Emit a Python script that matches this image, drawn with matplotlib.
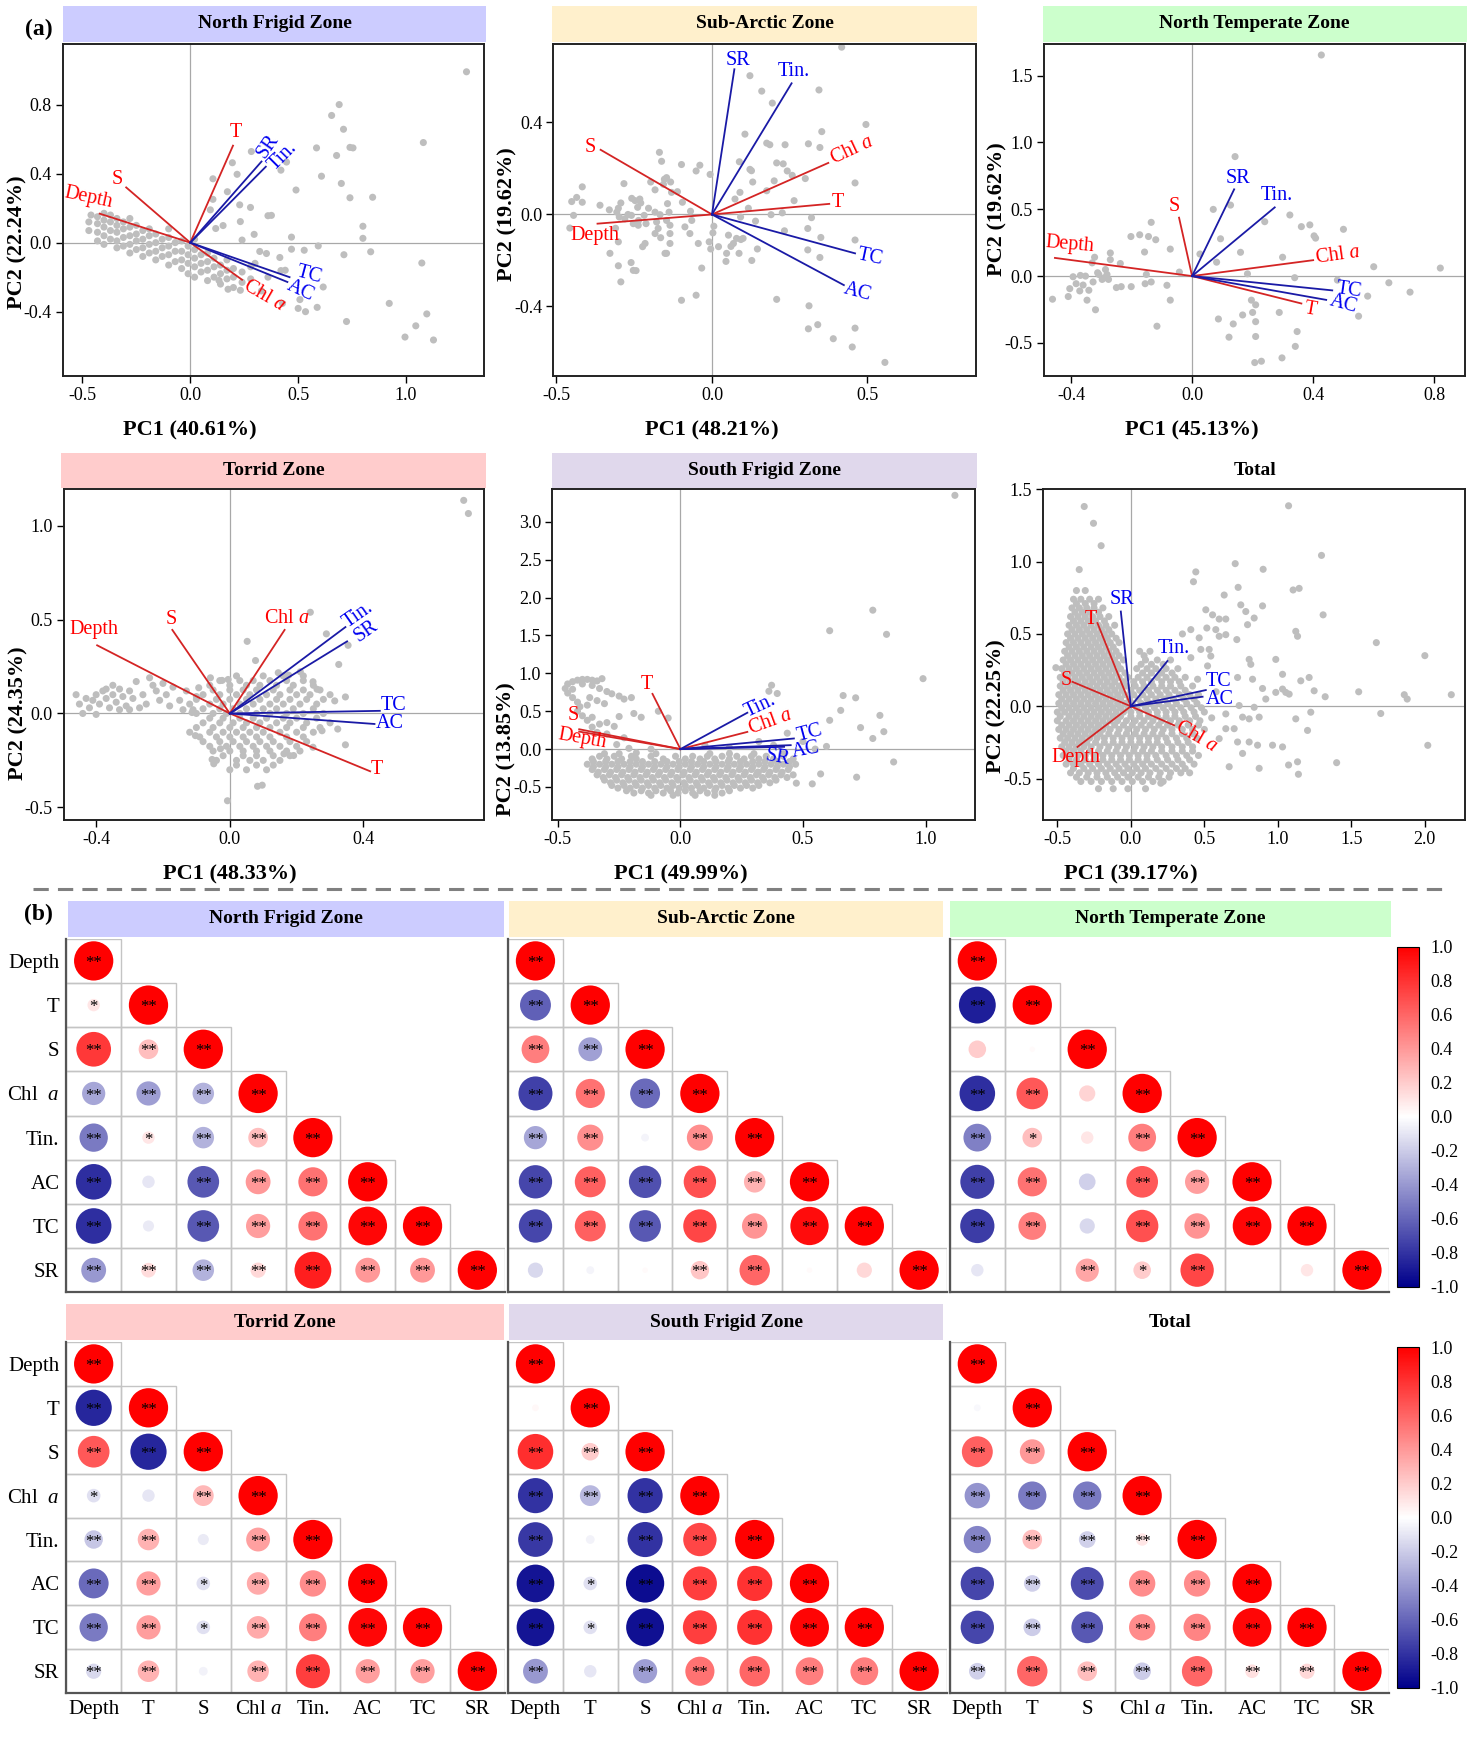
import numpy as np
import matplotlib
matplotlib.use("Agg")
import matplotlib.pyplot as plt
import matplotlib.cm as cm
from matplotlib.colors import LinearSegmentedColormap, Normalize
from matplotlib.patches import Rectangle
from matplotlib.lines import Line2D
from matplotlib.ticker import FormatStrFormatter

plt.rcParams["font.family"] = ["Liberation Serif", "DejaVu Serif"]
plt.rcParams["mathtext.fontset"] = "custom"
plt.rcParams["mathtext.rm"] = "Liberation Serif"
plt.rcParams["mathtext.it"] = "Liberation Serif:italic"
plt.rcParams["axes.unicode_minus"] = False

# ---------------------------------------------------------------- data
variables = ["Depth", "T", "S", "Chl $a$", "Tin.", "AC", "TC", "SR"]
n_env = 4  # Depth, T, S, Chl a drawn in red, the rest in blue

zones = ["North Frigid Zone", "Sub-Arctic Zone", "North Temperate Zone",
         "Torrid Zone", "South Frigid Zone", "Total"]
strip_colors = ["#CCCCFF", "#FFF0CC", "#CCFFCC", "#FFCCCC", "#E0D8EC", "white"]
pc1_var = [40.61, 48.21, 45.13, 48.33, 49.99, 39.17]
pc2_var = [22.24, 19.62, 19.62, 24.35, 13.85, 22.25]
ylab_center = [0.0, 0.0, 0.5, 0.0, 0.0, 0.0]  # where the PC2 title sits on the y axis

# loadings (order as in variables)
nf_load = [(-0.42, 0.168), (0.198, 0.562), (-0.297, 0.32), (0.24, -0.215),
           (0.35, 0.44), (0.45, -0.228), (0.46, -0.20), (0.33, 0.47)]
sa_load = [(-0.368, -0.04), (0.377, 0.046), (-0.358, 0.281), (0.374, 0.224),
           (0.256, 0.57), (0.424, -0.307), (0.46, -0.169), (0.072, 0.631)]
nt_load = [(-0.453, 0.136), (0.361, -0.205), (-0.043, 0.437), (0.40, 0.119),
           (0.273, 0.514), (0.443, -0.178), (0.463, -0.107), (0.139, 0.649)]
tz_load = [(-0.397, 0.363), (0.42, -0.308), (-0.172, 0.445), (0.164, 0.445),
           (0.346, 0.46), (0.433, -0.056), (0.449, 0.014), (0.351, 0.384)]
sf_load = [(-0.413, 0.231), (-0.114, 0.729), (-0.413, 0.262), (0.273, 0.227),
           (0.273, 0.48), (0.45, 0.052), (0.463, 0.14), (0.423, 0.03)]
tot_load = [(-0.363, -0.281), (-0.227, 0.575), (-0.397, 0.169), (0.295, -0.132),
            (0.249, 0.313), (0.488, 0.066), (0.51, 0.112), (-0.068, 0.655)]

# label anchor points and angles
nf_lab = [(-0.47, 0.26, -12), (0.21, 0.64, 0), (-0.34, 0.365, 0), (0.34, -0.31, -30),
          (0.43, 0.50, 45), (0.51, -0.28, -25), (0.55, -0.185, -15), (0.36, 0.56, 55)]
sa_lab = [(-0.376, -0.09, 0), (0.406, 0.05, 0), (-0.39, 0.29, 0), (0.45, 0.28, 25),
          (0.264, 0.62, 0), (0.467, -0.34, -15), (0.51, -0.185, -12), (0.085, 0.667, 0)]
nt_lab = [(-0.405, 0.235, -5), (0.39, -0.248, -10), (-0.058, 0.519, 0), (0.48, 0.157, 8),
          (0.279, 0.605, 0), (0.50, -0.21, -15), (0.52, -0.11, -8), (0.153, 0.728, 0)]
tz_lab = [(-0.407, 0.449, 0), (0.44, -0.30, 0), (-0.175, 0.503, 0), (0.17, 0.507, 0),
          (0.386, 0.525, 35), (0.479, -0.053, 0), (0.49, 0.04, 0), (0.409, 0.44, 35)]
sf_lab = [(-0.40, 0.13, -10), (-0.137, 0.85, 0), (-0.436, 0.437, 0), (0.368, 0.35, 20),
          (0.327, 0.57, 25), (0.51, -0.02, 10), (0.529, 0.21, 15), (0.395, -0.12, -10)]
tot_lab = [(-0.374, -0.356, 0), (-0.272, 0.598, 0), (-0.442, 0.176, 0), (0.44, -0.21, -30),
           (0.295, 0.397, 0), (0.605, 0.05, 0), (0.60, 0.169, 0), (-0.061, 0.735, 0)]

# sample scores
nf_pts = [(0.69, 0.80), (0.655, 0.737), (0.71, 0.657), (0.74, 0.552), (0.754, 0.549),
          (0.678, 0.505), (0.585, 0.549), (0.608, 0.385), (0.70, 0.343), (0.74, 0.26),
          (0.845, 0.263), (1.08, 0.58), (1.28, 0.99), (0.49, 0.305), (0.283, 0.528),
          (0.195, 0.463), (0.217, 0.396), (0.42, 0.42), (0.446, 0.467), (0.105, 0.37),
          (0.172, 0.295), (0.105, 0.251), (0.093, 0.19), (0.229, 0.219), (0.279, 0.204),
          (0.36, 0.156), (0.376, 0.158), (0.232, 0.122), (0.152, 0.099), (0.118, 0.082),
          (0.296, 0.048), (0.469, 0.032), (0.24, 0.015), (0.469, -0.038), (0.528, -0.044),
          (0.593, -0.019), (0.80, 0.095), (0.80, 0.025), (0.836, -0.053), (0.712, -0.07),
          (0.415, -0.086), (0.353, -0.063), (0.322, -0.051), (0.42, -0.162), (0.44, -0.16),
          (0.616, -0.257), (0.508, -0.33), (0.50, -0.381), (0.534, -0.40), (0.588, -0.375),
          (0.427, -0.352), (0.724, -0.457), (0.922, -0.352), (1.073, -0.118), (1.096, -0.413),
          (1.045, -0.482), (0.995, -0.547), (1.127, -0.564), (0.175, -0.27), (0.232, -0.276),
          (0.133, -0.219), (0.30, -0.12), (0.36, -0.20), (0.33, -0.28)]
nf_band = [(-0.47, [0.07, 0.12]), (-0.46, [0.16]), (-0.43, [0.01, 0.06, 0.11, 0.15]),
           (-0.40, [-0.01, 0.04, 0.09, 0.13, 0.17]), (-0.37, [0.02, 0.07, 0.12, 0.16]),
           (-0.34, [-0.03, 0.01, 0.06, 0.10, 0.14]), (-0.31, [-0.02, 0.03, 0.08, 0.12]),
           (-0.28, [-0.06, -0.01, 0.04, 0.09, 0.14]), (-0.25, [-0.04, 0.01, 0.05, 0.10]),
           (-0.22, [-0.08, -0.03, 0.02, 0.07]), (-0.19, [-0.06, -0.01, 0.04, 0.08]),
           (-0.16, [-0.10, -0.05, 0.00, 0.05]), (-0.13, [-0.08, -0.03, 0.02]),
           (-0.10, [-0.13, -0.07, -0.02, 0.03, 0.08]), (-0.07, [-0.11, -0.05, 0.00]),
           (-0.04, [-0.15, -0.10, -0.05, 0.01]), (-0.01, [-0.18, -0.12, -0.07, -0.02]),
           (0.02, [-0.20, -0.14, -0.09, -0.04, 0.02]), (0.05, [-0.17, -0.12, -0.07]),
           (0.08, [-0.22, -0.16, -0.11, -0.06]), (0.11, [-0.20, -0.14, -0.09]),
           (0.14, [-0.24, -0.18, -0.13]), (0.17, [-0.21, -0.16, -0.10]),
           (0.20, [-0.26, -0.20, -0.15]), (0.24, [-0.23, -0.17]), (0.28, [-0.21, -0.14])]

sa_pts = [(0.417, 0.727), (0.122, 0.603), (0.16, 0.536), (0.194, 0.484), (0.344, 0.541),
          (0.106, 0.349), (0.176, 0.31), (0.186, 0.303), (0.235, 0.303), (0.31, 0.307),
          (0.347, 0.291), (0.353, 0.36), (0.495, 0.391), (0.46, 0.137), (0.30, 0.156),
          (0.088, 0.229), (0.122, 0.196), (0.127, 0.19), (0.131, 0.141), (0.208, 0.224),
          (0.229, 0.22), (0.242, 0.189), (0.258, 0.17), (0.20, 0.146), (0.176, 0.103),
          (0.09, 0.096), (0.074, 0.067), (0.117, 0.027), (0.092, -0.011), (0.19, -0.001),
          (0.226, 0.007), (0.264, 0.06), (0.14, -0.029), (0.32, -0.014), (0.233, -0.071),
          (0.308, -0.061), (0.35, -0.10), (0.46, -0.111), (0.053, -0.09), (0.079, -0.104),
          (0.093, -0.109), (0.10, -0.104), (0.069, -0.126), (0.087, -0.169), (0.047, -0.169),
          (0.061, -0.139), (0.146, -0.15), (0.128, -0.20), (0.045, -0.204), (0.308, -0.154),
          (0.347, -0.187), (0.208, -0.369), (0.312, -0.397), (0.34, -0.479), (0.31, -0.497),
          (0.39, -0.54), (0.46, -0.494), (0.451, -0.576), (0.556, -0.643), (0.021, -0.14),
          (0.006, -0.051), (0.003, -0.08), (-0.009, -0.119), (-0.004, -0.15), (-0.006, 0.174),
          (-0.033, -0.233), (-0.051, -0.351), (-0.098, -0.373), (-0.044, -0.126), (-0.071, -0.083),
          (-0.087, -0.054), (-0.065, -0.026), (-0.069, 0.014), (-0.098, 0.217), (-0.039, 0.214),
          (-0.051, 0.189), (-0.135, -0.126), (-0.135, -0.083), (-0.135, -0.047), (-0.169, 0.27),
          (-0.162, 0.231), (-0.197, 0.141), (-0.183, 0.107), (-0.153, 0.153), (-0.156, 0.131),
          (-0.146, 0.16), (-0.133, 0.141), (-0.13, 0.096), (-0.111, 0.099), (-0.143, 0.047),
          (-0.095, 0.053), (-0.138, 0.01), (-0.183, 0.01), (-0.167, -0.001), (-0.178, -0.033),
          (-0.146, -0.026), (-0.183, -0.083), (-0.173, -0.061), (-0.165, -0.101), (-0.151, -0.169),
          (-0.146, -0.169), (-0.215, -0.126), (-0.223, -0.14), (-0.232, 0.067), (-0.239, 0.031),
          (-0.218, -0.004), (-0.204, 0.027), (-0.236, -0.026), (-0.283, 0.134), (-0.293, 0.05),
          (-0.301, 0.027), (-0.306, 0.01), (-0.298, -0.011), (-0.28, -0.019), (-0.259, -0.004),
          (-0.253, -0.04), (-0.237, -0.047), (-0.212, -0.04), (-0.258, 0.07), (-0.247, 0.06),
          (-0.229, 0.05), (-0.301, -0.119), (-0.328, -0.169), (-0.301, -0.223), (-0.26, -0.209),
          (-0.253, -0.243), (-0.244, -0.244), (-0.293, -0.293), (-0.417, 0.12), (-0.451, 0.056),
          (-0.445, -0.004), (-0.435, 0.074), (-0.417, 0.053), (-0.457, -0.059), (-0.33, 0.02),
          (-0.36, 0.04), (-0.31, -0.06), (-0.27, 0.0)]

nt_pts = [(0.427, 1.654), (0.142, 0.894), (0.07, 0.499), (0.127, 0.531), (0.24, 0.407),
          (0.323, 0.457), (0.361, 0.37), (0.389, 0.383), (0.403, 0.301), (0.408, 0.284),
          (0.094, 0.279), (0.16, 0.178), (0.026, 0.165), (0.081, 0.104), (0.299, 0.141),
          (0.183, 0.017), (0.339, -0.012), (0.196, -0.18), (0.21, -0.215), (0.20, -0.272),
          (0.167, -0.291), (0.136, -0.358), (0.21, -0.341), (0.087, -0.321), (0.122, -0.457),
          (0.21, -0.452), (0.288, -0.272), (0.347, -0.415), (0.341, -0.526), (0.297, -0.612),
          (0.207, -0.647), (0.229, -0.637), (0.82, 0.06), (0.72, -0.12), (0.60, 0.07),
          (0.55, -0.30), (0.50, 0.35), (0.48, -0.03), (0.58, -0.15), (0.65, -0.05),
          (-0.116, -0.375), (-0.072, -0.18), (-0.083, -0.069), (-0.072, 0.202), (-0.042, 0.03),
          (-0.135, 0.402), (-0.202, 0.296), (-0.173, 0.309), (-0.144, 0.296), (-0.12, 0.272),
          (-0.157, 0.18), (-0.151, 0.012), (-0.155, -0.057), (-0.135, -0.044), (-0.201, -0.079),
          (-0.234, -0.079), (-0.25, -0.086), (-0.27, 0.173), (-0.27, 0.123), (-0.237, 0.094),
          (-0.286, 0.049), (-0.276, -0.025), (-0.297, -0.025), (-0.308, 0.012), (-0.322, 0.141),
          (-0.33, 0.099), (-0.312, 0.025), (-0.327, -0.044), (-0.319, -0.252), (-0.352, 0.0),
          (-0.369, 0.005), (-0.393, -0.005), (-0.383, -0.057), (-0.36, -0.067), (-0.371, -0.111),
          (-0.341, -0.106), (-0.347, -0.18), (-0.404, -0.094), (-0.409, -0.153), (-0.461, -0.173),
          (-0.289, -0.012), (-0.281, 0.012)]

tz_pts = [(0.70, 1.135), (0.714, 1.065), (0.083, -0.388), (-0.007, -0.465),
          (0.241, 0.539), (0.289, 0.424), (0.354, 0.363), (0.052, 0.384), (0.077, 0.282),
          (0.326, 0.261), (0.145, 0.217), (0.176, 0.204), (0.211, 0.222), (0.249, 0.169),
          (0.261, 0.129), (0.314, 0.067), (0.346, 0.088), (0.346, -0.167), (0.276, -0.092),
          (0.323, -0.083), (0.249, -0.18), (0.191, -0.224), (0.162, -0.215), (0.097, -0.382),
          (-0.048, -0.268), (-0.053, -0.245), (-0.028, -0.188), (-0.103, -0.118), (-0.113, 0.005),
          (-0.093, 0.137), (-0.058, 0.19), (-0.023, 0.176), (-0.005, 0.181),
          (-0.46, 0.10), (-0.45, 0.05), (-0.43, 0.08), (-0.42, 0.03), (-0.41, 0.07), (-0.40, 0.10),
          (-0.39, 0.05), (-0.38, 0.12), (-0.37, 0.08), (-0.36, 0.03), (-0.35, 0.10), (-0.34, 0.06),
          (-0.33, 0.13), (-0.32, 0.09), (-0.31, 0.04), (-0.30, 0.12), (-0.29, 0.08), (-0.28, 0.17),
          (-0.27, 0.03), (-0.26, 0.10), (-0.24, 0.19), (-0.22, 0.12), (-0.21, 0.07), (-0.20, 0.16),
          (-0.19, 0.10), (-0.18, 0.04), (-0.17, 0.14), (-0.15, 0.07), (-0.14, 0.02), (-0.13, 0.12),
          (-0.11, 0.02), (-0.10, 0.09), (-0.44, 0.0), (-0.40, -0.005), (-0.35, 0.15), (-0.30, 0.02),
          (-0.25, 0.05), (-0.23, 0.15), (-0.37, 0.13), (-0.33, 0.02)]
tz_rows = [(0.20, [0.02, 0.10, 0.16, 0.22]),
           (0.175, [-0.03, 0.03, 0.07, 0.12, 0.17, 0.22]),
           (0.15, [-0.06, 0.0, 0.05, 0.09, 0.14, 0.19, 0.25]),
           (0.125, [-0.05, 0.0, 0.04, 0.08, 0.13, 0.18, 0.22, 0.27]),
           (0.10, [-0.08, -0.03, 0.02, 0.06, 0.11, 0.15, 0.20, 0.24, 0.30]),
           (0.075, [-0.10, -0.04, 0.0, 0.05, 0.09, 0.14, 0.18, 0.23, 0.28]),
           (0.05, [-0.12, -0.06, -0.02, 0.03, 0.07, 0.12, 0.16, 0.21, 0.26]),
           (0.025, [-0.08, -0.03, 0.01, 0.05, 0.10, 0.14, 0.19, 0.25]),
           (0.00, [-0.10, -0.05, -0.01, 0.03, 0.08, 0.12, 0.17, 0.22, 0.28]),
           (-0.025, [-0.06, -0.02, 0.03, 0.07, 0.11, 0.16, 0.20, 0.26]),
           (-0.05, [-0.08, -0.03, 0.01, 0.05, 0.09, 0.14, 0.18, 0.23, 0.30]),
           (-0.075, [-0.10, -0.05, 0.0, 0.04, 0.08, 0.12, 0.17, 0.22, 0.27]),
           (-0.10, [-0.12, -0.06, -0.02, 0.02, 0.06, 0.10, 0.15, 0.20, 0.25]),
           (-0.125, [-0.09, -0.04, 0.0, 0.04, 0.08, 0.12, 0.17, 0.22]),
           (-0.15, [-0.08, -0.03, 0.01, 0.05, 0.09, 0.13, 0.18, 0.23]),
           (-0.175, [-0.06, -0.01, 0.03, 0.07, 0.11, 0.15, 0.20]),
           (-0.20, [-0.05, 0.0, 0.04, 0.08, 0.12, 0.17, 0.21]),
           (-0.225, [-0.02, 0.04, 0.08, 0.13, 0.18]),
           (-0.25, [-0.04, 0.02, 0.06, 0.10, 0.15]),
           (-0.275, [0.02, 0.08, 0.13]),
           (-0.30, [0.0, 0.05, 0.11])]

sf_pts = [(1.12, 3.35), (0.785, 1.834), (0.609, 1.563), (0.841, 1.515), (0.99, 0.93),
          (0.664, 0.707), (0.715, 0.677), (0.654, 0.511), (0.814, 0.445), (0.735, 0.284),
          (0.785, 0.14), (0.609, 0.38), (0.372, 0.843), (0.395, 0.734), (0.361, 0.764),
          (0.436, 0.21), (0.596, 0.035), (0.572, -0.328), (0.538, -0.459), (0.473, -0.45),
          (0.719, -0.371), (0.318, -0.306), (0.87, -0.17), (0.83, 0.23),
          (-0.47, 0.80), (-0.46, 0.86), (-0.44, 0.89), (-0.42, 0.91), (-0.40, 0.92), (-0.38, 0.92),
          (-0.36, 0.91), (-0.34, 0.90), (-0.32, 0.93), (-0.46, 0.74), (-0.44, 0.79), (-0.40, 0.86),
          (-0.36, 0.84), (-0.33, 0.80), (-0.30, 0.76), (-0.28, 0.73), (-0.25, 0.70), (-0.23, 0.66),
          (-0.20, 0.68), (-0.44, 0.68), (-0.42, 0.62), (-0.41, 0.56), (-0.38, 0.58), (-0.37, 0.68),
          (-0.34, 0.64), (-0.31, 0.60), (-0.42, 0.50), (-0.40, 0.44), (-0.38, 0.38), (-0.36, 0.42),
          (-0.33, 0.33), (-0.30, 0.35), (-0.27, 0.30), (-0.36, 0.29), (-0.34, 0.22), (-0.30, 0.20),
          (-0.25, 0.43), (-0.19, 0.47), (-0.16, 0.42), (-0.09, 0.50), (-0.05, 0.41), (-0.23, 0.15),
          (-0.26, 0.06), (-0.21, 0.01), (-0.18, -0.05), (-0.12, 0.0), (0.10, 0.05), (0.20, 0.02),
          (0.32, 0.10), (0.38, 0.05), (0.50, 0.10), (0.55, 0.0)]
sf_rows = [(-0.06, [-0.31, -0.25, -0.10, 0.12, 0.20, 0.30, 0.42]),
           (-0.095, [-0.33, -0.27, -0.20, -0.12, -0.02, 0.05, 0.11, 0.17, 0.23, 0.29, 0.35, 0.42]),
           (-0.13, [-0.36, -0.30, -0.24, -0.18, -0.07, 0.02, 0.08, 0.14, 0.20, 0.26, 0.32, 0.38, 0.46]),
           (-0.165, [-0.355, -0.305, -0.255, -0.205, -0.155, -0.105, -0.055, -0.005, 0.045, 0.095,
                     0.145, 0.195, 0.245, 0.295, 0.345, 0.395, 0.445]),
           (-0.20, [-0.38, -0.33, -0.28, -0.23, -0.18, -0.13, -0.08, -0.03, 0.02, 0.07, 0.12, 0.17,
                    0.22, 0.27, 0.32, 0.37, 0.42, 0.47]),
           (-0.235, [-0.355, -0.305, -0.255, -0.205, -0.155, -0.105, -0.055, -0.005, 0.045, 0.095,
                     0.145, 0.195, 0.245, 0.295, 0.345, 0.395, 0.445]),
           (-0.27, [-0.36, -0.31, -0.26, -0.21, -0.16, -0.11, -0.06, -0.01, 0.04, 0.09, 0.14, 0.19,
                    0.24, 0.29, 0.34, 0.39, 0.44]),
           (-0.305, [-0.335, -0.285, -0.235, -0.185, -0.135, -0.085, -0.035, 0.015, 0.065, 0.115,
                     0.165, 0.215, 0.265, 0.315, 0.365, 0.415]),
           (-0.34, [-0.34, -0.29, -0.24, -0.19, -0.14, -0.09, -0.04, 0.01, 0.06, 0.11, 0.16, 0.21,
                    0.26, 0.31, 0.36, 0.41, 0.46]),
           (-0.375, [-0.315, -0.265, -0.215, -0.165, -0.115, -0.065, -0.015, 0.035, 0.085, 0.135,
                     0.185, 0.235, 0.285, 0.335, 0.385, 0.435]),
           (-0.41, [-0.31, -0.26, -0.21, -0.16, -0.11, -0.06, -0.01, 0.04, 0.09, 0.14, 0.19, 0.24,
                    0.29, 0.34, 0.39]),
           (-0.445, [-0.285, -0.235, -0.185, -0.135, -0.085, -0.035, 0.015, 0.065, 0.115, 0.165,
                     0.215, 0.265, 0.315, 0.365]),
           (-0.48, [-0.28, -0.23, -0.18, -0.13, -0.08, -0.03, 0.02, 0.07, 0.12, 0.17, 0.22, 0.27, 0.32]),
           (-0.515, [-0.255, -0.205, -0.155, -0.105, -0.055, -0.005, 0.045, 0.095, 0.145, 0.195,
                     0.245, 0.295]),
           (-0.55, [-0.22, -0.16, -0.10, -0.04, 0.02, 0.08, 0.14, 0.20]),
           (-0.58, [-0.19, -0.13, -0.07, -0.01, 0.05, 0.11, 0.17]),
           (-0.61, [-0.12, -0.03, 0.06, 0.14])]

tot_pts = [(-0.317, 1.381), (-0.254, 1.265), (-0.202, 1.11), (-0.351, 0.945), (1.073, 1.386),
           (0.71, 0.986), (0.90, 0.947), (0.442, 0.929), (0.426, 0.861), (1.297, 1.043),
           (1.308, 0.632), (0.73, 0.822), (0.635, 0.769), (1.104, 0.804), (1.145, 0.815),
           (0.748, 0.701), (0.782, 0.655), (0.839, 0.61), (0.896, 0.694), (0.794, 0.564),
           (0.51, 0.667), (0.556, 0.632), (0.601, 0.603), (0.646, 0.603), (0.517, 0.541),
           (0.578, 0.53), (0.601, 0.484), (0.646, 0.495), (0.721, 0.461), (0.986, 0.324),
           (1.032, 0.221), (1.122, 0.518), (1.134, 0.484), (0.805, 0.324), (0.816, 0.29),
           (0.408, 0.53), (0.351, 0.50), (0.465, 0.473), (0.408, 0.336), (0.476, 0.393),
           (0.533, 0.393), (0.544, 0.347), (0.522, 0.279), (0.454, 0.187), (0.726, 0.199),
           (0.828, 0.187), (0.896, 0.123), (1.032, 0.119), (0.918, 0.05), (0.986, 0.096),
           (1.054, 0.096), (1.077, 0.084), (1.156, 0.176), (1.213, 0.199), (1.247, 0.107),
           (1.322, 0.066), (1.224, -0.041), (1.122, -0.087), (1.202, -0.167), (0.76, -0.075),
           (0.805, -0.087), (0.873, -0.075), (0.839, -0.007), (0.737, 0.005), (0.646, -0.053),
           (0.703, -0.155), (0.726, -0.247), (0.76, -0.326), (0.805, -0.247), (0.862, -0.269),
           (0.873, -0.429), (0.964, -0.269), (1.032, -0.281), (1.073, -0.406), (1.134, -0.384),
           (0.601, -0.224), (0.646, -0.155), (0.669, -0.418), (0.204, -0.532), (-0.51, 0.267),
           (1.67, 0.44), (1.86, 0.08), (1.88, 0.05), (2.18, 0.08), (2.0, 0.35), (2.02, -0.27),
           (1.40, -0.39), (1.14, -0.47), (1.55, 0.10), (1.70, -0.05), (0.58, 0.10), (0.55, -0.08)]
tot_rows = [(0.80, [-0.37, -0.31]),
            (0.74, [-0.39, -0.34, -0.28, -0.22]),
            (0.71, [-0.37, -0.31, -0.25]),
            (0.68, [-0.40, -0.35, -0.30, -0.25, -0.19]),
            (0.65, [-0.38, -0.33, -0.28, -0.22]),
            (0.62, [-0.41, -0.36, -0.31, -0.26, -0.21, -0.15]),
            (0.59, [-0.39, -0.34, -0.29, -0.24, -0.18]),
            (0.56, [-0.42, -0.37, -0.32, -0.27, -0.22, -0.17, -0.11]),
            (0.53, [-0.40, -0.35, -0.30, -0.25, -0.20, -0.15]),
            (0.50, [-0.43, -0.38, -0.33, -0.28, -0.23, -0.18, -0.13]),
            (0.47, [-0.41, -0.36, -0.31, -0.26, -0.21, -0.16, -0.10]),
            (0.44, [-0.44, -0.39, -0.34, -0.29, -0.24, -0.19, -0.14, -0.08]),
            (0.41, [-0.42, -0.37, -0.32, -0.27, -0.22, -0.17, -0.12]),
            (0.38, [-0.45, -0.40, -0.35, -0.30, -0.25, -0.20, -0.15, -0.10, 0.06, 0.13]),
            (0.35, [-0.43, -0.38, -0.33, -0.28, -0.23, -0.18, -0.13, -0.08, 0.09]),
            (0.32, [-0.46, -0.41, -0.36, -0.31, -0.26, -0.21, -0.16, -0.11, -0.05, 0.10, 0.18, 0.27]),
            (0.29, [-0.44, -0.39, -0.34, -0.29, -0.24, -0.19, -0.14, -0.09, 0.07, 0.14, 0.22]),
            (0.26, [-0.47, -0.42, -0.37, -0.32, -0.27, -0.22, -0.17, -0.12, -0.07, 0.04, 0.11, 0.17,
                    0.24, 0.32]),
            (0.23, [-0.45, -0.40, -0.35, -0.30, -0.25, -0.20, -0.15, -0.10, -0.04, 0.08, 0.14, 0.21,
                    0.28]),
            (0.20, [-0.48, -0.43, -0.38, -0.33, -0.28, -0.23, -0.18, -0.13, -0.08, -0.02, 0.05, 0.11,
                    0.18, 0.24, 0.30, 0.37]),
            (0.17, [-0.46, -0.41, -0.36, -0.31, -0.26, -0.21, -0.16, -0.11, -0.05, 0.02, 0.08, 0.14,
                    0.21, 0.27, 0.33]),
            (0.14, [-0.48, -0.43, -0.38, -0.33, -0.28, -0.23, -0.18, -0.13, -0.08, -0.03, 0.03, 0.09,
                    0.15, 0.21, 0.27, 0.34, 0.42]),
            (0.11, [-0.46, -0.41, -0.36, -0.31, -0.26, -0.21, -0.16, -0.11, -0.06, 0.0, 0.06, 0.12,
                    0.18, 0.24, 0.30, 0.37]),
            (0.08, [-0.49, -0.44, -0.39, -0.34, -0.29, -0.24, -0.19, -0.14, -0.09, -0.04, 0.02, 0.08,
                    0.14, 0.20, 0.26, 0.33, 0.40, 0.46]),
            (0.05, [-0.47, -0.42, -0.37, -0.32, -0.27, -0.22, -0.17, -0.12, -0.07, -0.01, 0.05, 0.11,
                    0.17, 0.23, 0.29, 0.36, 0.43]),
            (0.02, [-0.49, -0.44, -0.39, -0.34, -0.29, -0.24, -0.19, -0.14, -0.09, -0.04, 0.01, 0.07,
                    0.13, 0.19, 0.25, 0.31, 0.38, 0.45]),
            (-0.01, [-0.47, -0.42, -0.37, -0.32, -0.27, -0.22, -0.17, -0.12, -0.07, -0.02, 0.04, 0.10,
                     0.16, 0.22, 0.28, 0.34, 0.41, 0.48]),
            (-0.04, [-0.50, -0.45, -0.40, -0.35, -0.30, -0.25, -0.20, -0.15, -0.10, -0.05, 0.00, 0.06,
                     0.12, 0.18, 0.24, 0.30, 0.36, 0.43, 0.50]),
            (-0.07, [-0.48, -0.42, -0.37, -0.32, -0.27, -0.22, -0.17, -0.12, -0.07, 0.0, 0.06, 0.12,
                     0.18, 0.24, 0.30, 0.37, 0.44]),
            (-0.10, [-0.50, -0.44, -0.39, -0.34, -0.29, -0.24, -0.19, -0.14, -0.09, -0.03, 0.03, 0.09,
                     0.15, 0.21, 0.27, 0.33, 0.40, 0.47]),
            (-0.13, [-0.47, -0.42, -0.37, -0.32, -0.27, -0.22, -0.17, -0.11, -0.05, 0.01, 0.07, 0.13,
                     0.19, 0.25, 0.32, 0.39, 0.46]),
            (-0.16, [-0.49, -0.44, -0.39, -0.34, -0.29, -0.24, -0.19, -0.14, -0.08, -0.02, 0.04, 0.10,
                     0.16, 0.22, 0.28, 0.35, 0.42, 0.50]),
            (-0.19, [-0.46, -0.41, -0.36, -0.31, -0.26, -0.21, -0.15, -0.09, -0.03, 0.03, 0.09, 0.15,
                     0.21, 0.28, 0.35, 0.42]),
            (-0.22, [-0.48, -0.43, -0.38, -0.33, -0.28, -0.23, -0.18, -0.12, -0.06, 0.00, 0.06, 0.12,
                     0.18, 0.24, 0.31, 0.38, 0.45]),
            (-0.25, [-0.45, -0.40, -0.35, -0.30, -0.24, -0.18, -0.12, -0.06, 0.0, 0.06, 0.12, 0.18,
                     0.25, 0.32, 0.39]),
            (-0.28, [-0.47, -0.42, -0.37, -0.32, -0.27, -0.21, -0.15, -0.09, -0.03, 0.03, 0.09, 0.15,
                     0.21, 0.28, 0.35, 0.42]),
            (-0.31, [-0.44, -0.39, -0.34, -0.28, -0.22, -0.16, -0.10, -0.04, 0.02, 0.08, 0.14, 0.21,
                     0.28, 0.35, 0.42]),
            (-0.34, [-0.46, -0.41, -0.36, -0.31, -0.25, -0.19, -0.13, -0.07, -0.01, 0.05, 0.11, 0.17,
                     0.24, 0.31, 0.38, 0.46]),
            (-0.37, [-0.42, -0.37, -0.31, -0.25, -0.19, -0.13, -0.07, -0.01, 0.05, 0.11, 0.18, 0.25,
                     0.32, 0.40]),
            (-0.40, [-0.44, -0.39, -0.34, -0.28, -0.22, -0.16, -0.10, -0.04, 0.02, 0.08, 0.14, 0.21,
                     0.28, 0.35, 0.43]),
            (-0.43, [-0.39, -0.32, -0.26, -0.20, -0.14, -0.08, -0.02, 0.04, 0.10, 0.17, 0.24, 0.31, 0.37]),
            (-0.46, [-0.41, -0.35, -0.29, -0.23, -0.17, -0.11, -0.05, 0.01, 0.07, 0.13, 0.20, 0.27,
                     0.34, 0.40]),
            (-0.49, [-0.37, -0.30, -0.23, -0.16, -0.09, -0.02, 0.05, 0.12, 0.19, 0.26]),
            (-0.52, [-0.34, -0.27, -0.20, -0.13, -0.06, 0.01, 0.08, 0.15, 0.22]),
            (-0.57, [-0.22, -0.12, -0.02, 0.10])]

# axis ranges and ticks
pca_xlim = [(-0.59, 1.36), (-0.51, 0.85), (-0.49, 0.90), (-0.496, 0.76), (-0.523, 1.203), (-0.60, 2.27)]
pca_ylim = [(-0.77, 1.15), (-0.70, 0.74), (-0.744, 1.735), (-0.565, 1.194), (-0.93, 3.43), (-0.783, 1.49)]
pca_xticks = [[-0.5, 0, 0.5, 1.0], [-0.5, 0, 0.5], [-0.4, 0, 0.4, 0.8], [-0.4, 0, 0.4],
              [-0.5, 0, 0.5, 1.0], [-0.5, 0, 0.5, 1.0, 1.5, 2.0]]
pca_yticks = [[-0.4, 0, 0.4, 0.8], [-0.4, 0, 0.4], [-0.5, 0, 0.5, 1.0, 1.5], [-0.5, 0, 0.5, 1.0],
              [-0.5, 0, 0.5, 1.0, 1.5, 2.0, 2.5, 3.0], [-0.5, 0, 0.5, 1.0, 1.5]]

# correlation matrices (lower triangle, rows Depth..SR)
nf_r = [[1], [0.10, 1], [0.78, 0.25, 1], [-0.35, -0.38, -0.30, 1],
        [-0.52, 0.10, -0.30, 0.25, 1], [-0.82, -0.10, -0.65, 0.40, 0.55, 1],
        [-0.82, -0.08, -0.65, 0.38, 0.55, 0.97, 1], [-0.40, 0.14, -0.30, 0.15, 0.88, 0.40, 0.40, 1]]
nf_sig = [["**"], ["*", "**"], ["**", "**", "**"], ["**", "**", "**", "**"],
          ["**", "*", "**", "**", "**"], ["**", "", "**", "**", "**", "**"],
          ["**", "", "**", "**", "**", "**", "**"], ["**"] * 8]
sa_r = [[1], [-0.62, 1], [0.50, -0.37, 1], [-0.75, 0.55, -0.58, 1],
        [-0.35, 0.44, -0.04, 0.44, 1], [-0.72, 0.62, -0.68, 0.68, 0.30, 1],
        [-0.72, 0.62, -0.65, 0.72, 0.42, 0.95, 1], [-0.15, -0.04, 0.02, 0.22, 0.60, 0.02, 0.15, 1]]
sa_sig = [["**"], ["**", "**"], ["**", "**", "**"], ["**", "**", "**", "**"],
          ["**", "**", "", "**", "**"], ["**"] * 6, ["**"] * 7,
          ["", "", "", "**", "**", "", "", "**"]]
nt_r = [[1], [-0.88, 1], [0.20, 0.02, 1], [-0.82, 0.65, 0.17, 1],
        [-0.50, 0.25, 0.10, 0.50, 1], [-0.75, 0.55, -0.18, 0.65, 0.38, 1],
        [-0.76, 0.50, -0.15, 0.68, 0.42, 0.97, 1], [-0.10, 0.0, 0.35, 0.20, 0.72, 0.0, 0.10, 1]]
nt_sig = [["**"], ["**", "**"], ["", "", "**"], ["**", "**", "", "**"],
          ["**", "*", "", "**", "**"], ["**", "**", "", "**", "**", "**"],
          ["**", "**", "", "**", "**", "**", "**"], ["", "", "**", "*", "**", "", "", "**"]]
tz_r = [[1], [-0.85, 1], [0.65, -0.85, 1], [-0.12, -0.10, 0.28, 1],
        [-0.22, 0.30, -0.08, 0.37, 1], [-0.58, 0.38, -0.12, 0.33, 0.45, 1],
        [-0.52, 0.38, -0.12, 0.33, 0.50, 0.97, 1], [-0.15, 0.30, -0.05, 0.30, 0.75, 0.38, 0.38, 1]]
tz_sig = [["**"], ["**", "**"], ["**", "**", "**"], ["*", "", "**", "**"],
          ["**", "**", "", "**", "**"], ["**", "**", "*", "**", "**", "**"],
          ["**", "**", "*", "**", "**", "**", "**"], ["**", "**", "", "**", "**", "**", "**", "**"]]
sf_r = [[1], [0.03, 1], [0.82, 0.20, 1], [-0.80, -0.28, -0.80, 1],
        [-0.78, -0.05, -0.80, 0.72, 1], [-0.92, -0.12, -0.95, 0.75, 0.80, 1],
        [-0.92, -0.12, -0.93, 0.75, 0.80, 0.98, 1], [-0.40, -0.10, -0.38, 0.55, 0.60, 0.50, 0.50, 1]]
sf_sig = [["**"], ["", "**"], ["**", "**", "**"], ["**", "**", "**", "**"],
          ["**", "", "**", "**", "**"], ["**", "*", "**", "**", "**", "**"],
          ["**", "*", "**", "**", "**", "**", "**"], ["**", "", "**", "**", "**", "**", "**", "**"]]
tot_r = [[1], [-0.03, 1], [0.62, 0.40, 1], [-0.42, -0.52, -0.52, 1],
         [-0.48, 0.25, -0.18, 0.10, 1], [-0.72, -0.18, -0.70, 0.45, 0.45, 1],
         [-0.72, -0.20, -0.65, 0.45, 0.48, 0.97, 1], [-0.18, 0.60, 0.25, -0.20, 0.60, 0.12, 0.15, 1]]
tot_sig = [["**"], ["", "**"], ["**", "**", "**"], ["**", "**", "**", "**"],
           ["**", "**", "**", "**", "**"], ["**"] * 6, ["**"] * 7, ["**"] * 8]

loadings = [nf_load, sa_load, nt_load, tz_load, sf_load, tot_load]
labels_at = [nf_lab, sa_lab, nt_lab, tz_lab, sf_lab, tot_lab]
corr_r = [nf_r, sa_r, nt_r, tz_r, sf_r, tot_r]
corr_sig = [nf_sig, sa_sig, nt_sig, tz_sig, sf_sig, tot_sig]


def by_col(cols):
    return [(x, y) for x, ys in cols for y in ys]


def by_row(rows):
    return [(x, y) for y, xs in rows for x in xs]


scores = [nf_pts + by_col(nf_band), sa_pts, nt_pts, tz_pts + by_row(tz_rows),
          sf_pts + by_row(sf_rows), tot_pts + by_row(tot_rows)]

# ---------------------------------------------------------------- layout
W0, H0 = 1340.0, 1579.0


def box(x0, y0, x1, y1):
    return [x0 / W0, 1 - y1 / H0, (x1 - x0) / W0, (y1 - y0) / H0]


pca_boxes = [(57, 40, 438, 340), (501, 40, 884, 340), (945, 40, 1326, 340),
             (58, 443, 438, 742), (500, 443, 883, 742), (944, 443, 1326, 742)]
pca_strips = [(57, 5, 440, 38), (500, 5, 885, 38), (944, 5, 1328, 38),
              (55, 410, 440, 442), (500, 410, 885, 442), (944, 410, 1328, 442)]
corr_boxes = [(60, 850, 457, 1170), (460, 850, 857, 1170), (860, 850, 1258, 1170),
              (60, 1215, 457, 1533), (460, 1215, 857, 1533), (860, 1215, 1258, 1533)]
corr_strips = [(62, 816, 456, 848), (461, 816, 854, 848), (860, 816, 1259, 848),
               (60, 1181, 456, 1213), (461, 1181, 854, 1213), (860, 1181, 1259, 1213)]
cbar_boxes = [(1265, 857, 1285, 1165), (1265, 1220, 1285, 1528)]

RED_LINE, RED_TXT = "#D42424", "#FF0000"
BLUE_LINE, BLUE_TXT = "#1A1AA6", "#0000F0"
cmap = LinearSegmentedColormap.from_list("bwr_corr", ["#00008B", "#FFFFFF", "#FF0000"])
norm = Normalize(-1, 1)

fig = plt.figure(figsize=(14.8, 17.44), dpi=100)


def strip(b, title, color):
    ax = fig.add_axes(box(*b))
    ax.set_facecolor(color)
    ax.set_xticks([])
    ax.set_yticks([])
    for sp in ax.spines.values():
        sp.set_visible(False)
    ax.text(0.5, 0.5, title, ha="center", va="center", fontsize=14, fontweight="bold",
            transform=ax.transAxes)


# (a) PCA biplots
for k in range(6):
    strip(pca_strips[k], zones[k], strip_colors[k])
    ax = fig.add_axes(box(*pca_boxes[k]))
    ax.axhline(0, color="#A8A8A8", lw=0.9, zorder=1)
    ax.axvline(0, color="#A8A8A8", lw=0.9, zorder=1)
    pts = np.array(scores[k])
    ax.scatter(pts[:, 0], pts[:, 1], s=26, color="#BEBEBE", edgecolors="none", zorder=2)
    for i, name in enumerate(variables):
        lc, tc = (RED_LINE, RED_TXT) if i < n_env else (BLUE_LINE, BLUE_TXT)
        lx, ly = loadings[k][i]
        ax.plot([0, lx], [0, ly], color=lc, lw=1.3, zorder=3)
        tx, ty, rot = labels_at[k][i]
        ax.text(tx, ty, name, color=tc, fontsize=14.5, rotation=rot,
                ha="center", va="center", zorder=4)
    x0, x1 = pca_xlim[k]
    y0, y1 = pca_ylim[k]
    ax.set_xlim(x0, x1)
    ax.set_ylim(y0, y1)
    ax.set_xticks(pca_xticks[k])
    ax.set_yticks(pca_yticks[k])
    ax.xaxis.set_major_formatter(FormatStrFormatter("%.1f"))
    ax.yaxis.set_major_formatter(FormatStrFormatter("%.1f"))
    ax.tick_params(direction="out", length=5, width=1, labelsize=13, pad=3)
    for sp in ax.spines.values():
        sp.set_linewidth(1.4)
        sp.set_color("#222222")
    ax.set_xlabel(f"PC1 ({pc1_var[k]:.2f}%)", fontsize=16, fontweight="bold")
    ax.set_ylabel(f"PC2 ({pc2_var[k]:.2f}%)", fontsize=16, fontweight="bold")
    # axis titles are centred on the zero lines
    ax.xaxis.set_label_coords((0 - x0) / (x1 - x0), -0.135)
    ax.yaxis.set_label_coords(-0.085, (ylab_center[k] - y0) / (y1 - y0))

# (b) correlation matrices
for k in range(6):
    strip(corr_strips[k], zones[k], strip_colors[k])
    ax = fig.add_axes(box(*corr_boxes[k]))
    ax.set_xlim(-0.5, 7.5)
    ax.set_ylim(7.5, -0.5)
    r, sig = corr_r[k], corr_sig[k]
    for i in range(8):
        for j in range(i + 1):
            ax.add_patch(Rectangle((j - 0.5, i - 0.5), 1, 1, fill=False,
                                   ec="#C4C4C4", lw=1.0, zorder=1))
            v = r[i][j]
            ax.scatter(j, i, s=800 * abs(v), color=cmap(norm(v)), edgecolors="none", zorder=2)
            if sig[i][j]:
                ax.text(j, i + 0.05, sig[i][j], ha="center", va="center", fontsize=12, zorder=3)
    for side in ("top", "right"):
        ax.spines[side].set_visible(False)
    for side in ("left", "bottom"):
        ax.spines[side].set_linewidth(1.6)
        ax.spines[side].set_color("#555555")
    ax.set_xticks(range(8))
    ax.set_yticks(range(8))
    ax.tick_params(length=0, labelsize=15, pad=5)
    if k % 3 == 0:
        ax.set_yticklabels(["Depth", "T", "S", "Chl  $a$", "Tin.", "AC", "TC", "SR"])
    else:
        ax.set_yticklabels([])
    if k >= 3:
        ax.set_xticklabels(variables)
    else:
        ax.set_xticklabels([])

for b in cbar_boxes:
    cax = fig.add_axes(box(*b))
    sm = cm.ScalarMappable(norm=norm, cmap=cmap)
    cb = fig.colorbar(sm, cax=cax, ticks=[-1.0, -0.8, -0.6, -0.4, -0.2, 0.0, 0.2, 0.4, 0.6, 0.8, 1.0])
    cb.ax.yaxis.set_major_formatter(FormatStrFormatter("%.1f"))
    cb.ax.tick_params(length=0, labelsize=13, pad=8)
    cb.outline.set_linewidth(0.8)

fig.text(35 / W0, 1 - 27 / H0, "(a)", fontsize=17, fontweight="bold", ha="center", va="center")
fig.text(35 / W0, 1 - 828 / H0, "(b)", fontsize=17, fontweight="bold", ha="center", va="center")
fig.add_artist(Line2D([30 / W0, 1312 / W0], [1 - 805 / H0, 1 - 805 / H0], color="#808080",
                      lw=2.2, linestyle=(0, (5, 3)), transform=fig.transFigure))

fig.savefig("out.png", dpi=100)
